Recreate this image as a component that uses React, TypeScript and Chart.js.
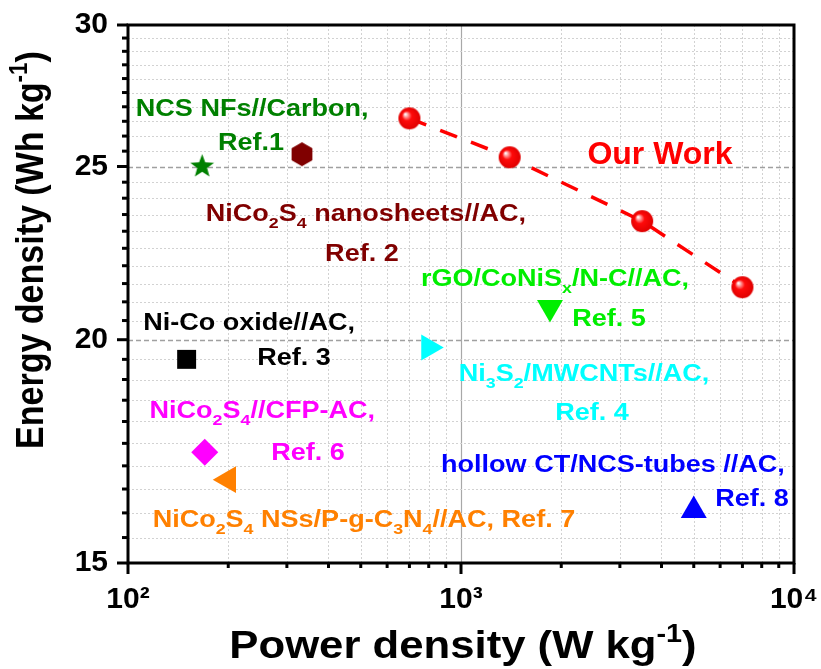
import React, { useEffect, useRef } from 'react';
import { Chart, registerables } from 'chart.js';

Chart.register(...registerables);

// ---------- data ----------
const ourWorkPower = [700, 1400, 3500, 7000];
const ourWorkEnergy = [26.6, 25.3, 23.3, 21.4];

const refNames = ['Ref. 1', 'Ref. 2', 'Ref. 3', 'Ref. 4', 'Ref. 5', 'Ref. 6', 'Ref. 7', 'Ref. 8'];
const refPower = [167, 333, 150, 800, 1850, 170, 200, 5000];
const refEnergy = [25.0, 25.4, 19.5, 19.8, 20.85, 17.3, 16.7, 16.05];
const refColors = ['#008000', '#800000', '#000000', '#00FFFF', '#00EE00', '#FF00FF', '#FF8000', '#0000FF'];

const yMajorTicks = [15, 20, 25, 30];
const xMajorTicks = [100, 1000, 10000];
const xTickLabels = ['10\u00B2', '10\u00B3', '10\u2074'];

const xTitle = 'Power density (W kg^{-1})';
const yTitle = 'Energy density (Wh kg^{-1})';

// annotation text anchored in data coordinates (power, energy)
const notes = [
  { text: 'NCS NFs//Carbon,', x: 236, y: 26.96, color: '#008000' },
  { text: 'Ref.1', x: 234, y: 25.8, color: '#008000' },
  { text: 'NiCo_{2}S_{4} nanosheets//AC,', x: 518, y: 23.57, color: '#800000' },
  { text: 'Ref. 2', x: 504, y: 22.39, color: '#800000' },
  { text: 'Our Work', x: 3959, y: 25.47, color: '#FF0000', big: true },
  { text: 'rGO/CoNiS_{x}/N-C//AC,', x: 1916, y: 21.68, color: '#00EE00' },
  { text: 'Ref. 5', x: 2783, y: 20.57, color: '#00EE00' },
  { text: 'Ni-Co oxide//AC,', x: 231, y: 20.46, color: '#000000' },
  { text: 'Ref. 3', x: 315, y: 19.56, color: '#000000' },
  { text: 'Ni_{3}S_{2}/MWCNTs//AC,', x: 2341, y: 19.18, color: '#00FFFF' },
  { text: 'Ref. 4', x: 2474, y: 18.22, color: '#00FFFF' },
  { text: 'NiCo_{2}S_{4}//CFP-AC,', x: 253, y: 18.27, color: '#FF00FF' },
  { text: 'Ref. 6', x: 347, y: 17.31, color: '#FF00FF' },
  { text: 'NiCo_{2}S_{4} NSs/P-g-C_{3}N_{4}//AC, Ref. 7', x: 511, y: 15.89, color: '#FF8000' },
  { text: 'hollow CT/NCS-tubes //AC,', x: 2860, y: 17.06, color: '#0000FF' },
  { text: 'Ref. 8', x: 7477, y: 16.31, color: '#0000FF' },
];

const ARIAL = "'Liberation Sans', Arial, sans-serif";

// ---------- helpers ----------
type Seg = { t: string; k: 'n' | 'sub' | 'sup' };
function parseRich(s: string): Seg[] {
  const segs: Seg[] = [];
  const re = /([_^])\{([^}]*)\}/g;
  let last = 0;
  let m: RegExpExecArray | null;
  while ((m = re.exec(s))) {
    if (m.index > last) segs.push({ t: s.slice(last, m.index), k: 'n' });
    segs.push({ t: m[2], k: m[1] === '_' ? 'sub' : 'sup' });
    last = re.lastIndex;
  }
  if (last < s.length) segs.push({ t: s.slice(last), k: 'n' });
  return segs;
}

function drawRich(
  ctx: CanvasRenderingContext2D,
  s: string,
  x: number,
  y: number,
  o: { size: number; family: string; color: string; sx?: number; sy?: number; align?: string }
) {
  const segs = parseRich(s);
  const fs = (k: string) => (k === 'n' ? o.size : o.size * 0.66);
  ctx.save();
  ctx.translate(x, y);
  ctx.scale(o.sx ?? 1, o.sy ?? 1);
  ctx.fillStyle = o.color;
  ctx.textBaseline = 'alphabetic';
  ctx.textAlign = 'left';
  let total = 0;
  const ws = segs.map((sg) => {
    ctx.font = `bold ${fs(sg.k)}px ${o.family}`;
    const w = ctx.measureText(sg.t).width;
    total += w;
    return w;
  });
  let cx = o.align === 'left' ? 0 : o.align === 'right' ? -total : -total / 2;
  const base = 0.358 * o.size;
  segs.forEach((sg, i) => {
    ctx.font = `bold ${fs(sg.k)}px ${o.family}`;
    const dy = sg.k === 'sub' ? 0.3 * o.size : sg.k === 'sup' ? -0.4 * o.size : 0;
    ctx.fillText(sg.t, cx, base + dy);
    cx += ws[i];
  });
  ctx.restore();
}

function makeCanvas(size: number) {
  const c = document.createElement('canvas');
  c.width = size;
  c.height = size;
  return c;
}

function makeSphere(r: number) {
  const c = makeCanvas(2 * r + 2);
  const g = c.getContext('2d')!;
  const cc = r + 1;
  const grad = g.createRadialGradient(cc - r * 0.38, cc - r * 0.38, r * 0.04, cc, cc, r);
  grad.addColorStop(0, '#ffffff');
  grad.addColorStop(0.18, '#ff9090');
  grad.addColorStop(0.42, '#ff0a0a');
  grad.addColorStop(1, '#e00000');
  g.fillStyle = grad;
  g.beginPath();
  g.arc(cc, cc, r, 0, Math.PI * 2);
  g.fill();
  return c;
}

function makeStar(ro: number, ri: number, color: string) {
  const c = makeCanvas(2 * ro + 2);
  const g = c.getContext('2d')!;
  const cc = ro + 1;
  g.fillStyle = color;
  g.beginPath();
  for (let i = 0; i < 10; i++) {
    const a = -Math.PI / 2 + (i * Math.PI) / 5;
    const rr = i % 2 === 0 ? ro : ri;
    const px = cc + rr * Math.cos(a);
    const py = cc + rr * Math.sin(a);
    if (i === 0) g.moveTo(px, py);
    else g.lineTo(px, py);
  }
  g.closePath();
  g.fill();
  return c;
}

function makeHexagon(r: number, color: string) {
  const c = makeCanvas(2 * r + 2);
  const g = c.getContext('2d')!;
  const cc = r + 1;
  g.fillStyle = color;
  g.beginPath();
  for (let i = 0; i < 6; i++) {
    const a = -Math.PI / 2 + (i * Math.PI) / 3;
    const px = cc + r * Math.cos(a);
    const py = cc + r * Math.sin(a);
    if (i === 0) g.moveTo(px, py);
    else g.lineTo(px, py);
  }
  g.closePath();
  g.fill();
  return c;
}

function buildTicks(min: number, max: number, step: number) {
  const out: number[] = [];
  for (let v = min; v <= max + 1e-9; v += step) out.push(Math.round(v * 100) / 100);
  return out;
}
function buildLogTicks(decades: number[]) {
  const out: number[] = [];
  decades.forEach((d, i) => {
    if (i === decades.length - 1) { out.push(d); return; }
    for (let k = 1; k <= 9; k++) out.push(d * k);
  });
  return out;
}

const yTickValues = buildTicks(15, 30, 0.5);
const xTickValues = buildLogTicks(xMajorTicks);

const framePlugin = {
  id: 'frame',
  beforeDatasetsDraw(chart: any) {
    const ctx: CanvasRenderingContext2D = chart.ctx;
    const { left, right, top, bottom } = chart.chartArea;
    const xs = chart.scales.x;
    const ys = chart.scales.y;
    ctx.save();
    xs.ticks.forEach((t: any) => {
      const v = t.value;
      if (v === 100 || v === 10000) return;
      const px = Math.round(xs.getPixelForValue(v)) + 0.5;
      ctx.beginPath();
      if (v === 1000) {
        ctx.setLineDash([]);
        ctx.strokeStyle = '#a8a8a8';
        ctx.lineWidth = 1.2;
      } else {
        ctx.setLineDash([2, 2]);
        ctx.strokeStyle = '#d2d2d2';
        ctx.lineWidth = 1;
      }
      ctx.moveTo(px, top);
      ctx.lineTo(px, bottom);
      ctx.stroke();
    });
    ys.ticks.forEach((t: any) => {
      const v = t.value;
      if (v === 15 || v === 30) return;
      const py = Math.round(ys.getPixelForValue(v)) + 0.5;
      ctx.beginPath();
      if (v === 20 || v === 25) {
        ctx.setLineDash([5, 3]);
        ctx.strokeStyle = '#a0a0a0';
        ctx.lineWidth = 1.3;
      } else {
        ctx.setLineDash([2, 2]);
        ctx.strokeStyle = '#d2d2d2';
        ctx.lineWidth = 1;
      }
      ctx.moveTo(left, py);
      ctx.lineTo(right, py);
      ctx.stroke();
    });
    ctx.restore();
  },
  afterDraw(chart: any) {
    const ctx: CanvasRenderingContext2D = chart.ctx;
    const { left, right, top, bottom } = chart.chartArea;
    const xs = chart.scales.x;
    const ys = chart.scales.y;
    ctx.save();
    ctx.setLineDash([]);
    ctx.strokeStyle = '#000';
    ctx.lineWidth = 3;
    // tick marks
    ys.ticks.forEach((t: any) => {
      const v = t.value;
      const py = ys.getPixelForValue(v);
      const len = yMajorTicks.includes(v) ? 11 : 6;
      ctx.beginPath();
      ctx.moveTo(left - len, py);
      ctx.lineTo(left, py);
      ctx.stroke();
    });
    xs.ticks.forEach((t: any) => {
      const v = t.value;
      const px = xs.getPixelForValue(v);
      const len = xMajorTicks.includes(v) ? 11 : 5;
      ctx.beginPath();
      ctx.moveTo(px, bottom);
      ctx.lineTo(px, bottom + len);
      ctx.stroke();
    });
    // frame
    ctx.beginPath();
    ctx.rect(left, top, right - left, bottom - top);
    ctx.stroke();
    ctx.restore();

    // annotations
    notes.forEach((n) => {
      const px = xs.getPixelForValue(n.x);
      const py = ys.getPixelForValue(n.y);
      if (n.big) {
        drawRich(ctx, n.text, px, py, { size: 32, family: ARIAL, color: n.color });
      } else {
        drawRich(ctx, n.text, px, py, { size: 23.5, family: ARIAL, color: n.color, sx: 1.15 });
      }
    });

    // axis titles
    drawRich(ctx, xTitle, 463, 644, { size: 39, family: ARIAL, color: '#000', sx: 1.12 });
    ctx.save();
    ctx.translate(29, 250);
    ctx.rotate(-Math.PI / 2);
    drawRich(ctx, yTitle, 0, 0, { size: 34, family: ARIAL, color: '#000', sy: 1.15 });
    ctx.restore();
  },
};

export default function App() {
  const ref = useRef<HTMLCanvasElement>(null);
  useEffect(() => {
    const canvas = ref.current!;
    const sphere = makeSphere(11);
    const refStyles: any[] = [
      makeStar(12.5, 5.2, refColors[0]),
      makeHexagon(12, refColors[1]),
      'rect',
      'triangle',
      'triangle',
      'rectRot',
      'triangle',
      'triangle',
    ];
    const refRot = [0, 0, 0, 90, 180, 0, -90, 0];
    const refRadius = [12, 12, 13.4, 15, 15, 13.5, 15.5, 15];

    const datasets: any[] = [
      {
        label: 'Our Work',
        data: ourWorkPower.map((x, i) => ({ x, y: ourWorkEnergy[i] })),
        showLine: true,
        borderColor: '#FF0000',
        borderWidth: 3.5,
        borderDash: [18, 15],
        pointStyle: sphere,
        pointRadius: 11,
        backgroundColor: '#FF0000',
        order: 0,
      },
      ...refNames.map((name, i) => ({
        label: name,
        data: [{ x: refPower[i], y: refEnergy[i] }],
        showLine: false,
        pointStyle: refStyles[i],
        pointRotation: refRot[i],
        pointRadius: refRadius[i],
        pointBackgroundColor: refColors[i],
        pointBorderColor: refColors[i],
        pointBorderWidth: 0,
        order: 1,
      })),
    ];

    const chart = new Chart(canvas, {
      type: 'scatter',
      data: { datasets },
      options: {
        animation: false,
        responsive: false,
        layout: { padding: { top: 25, right: 27, left: 0, bottom: 0 } },
        plugins: { legend: { display: false }, tooltip: { enabled: false } },
        scales: {
          x: {
            type: 'logarithmic',
            position: 'bottom',
            min: 100,
            max: 10000,
            afterBuildTicks: (s: any) => {
              s.ticks = xTickValues.map((v) => ({ value: v }));
            },
            afterFit: (s: any) => {
              s.height = 106;
              s.paddingLeft = 0;
              s.paddingRight = 0;
              s.paddingTop = 0;
              s.paddingBottom = 0;
            },
            grid: { display: false, drawTicks: false },
            border: { display: false },
            ticks: {
              autoSkip: false,
              maxRotation: 0,
              minRotation: 0,
              padding: 19,
              color: '#000',
              font: { family: ARIAL, size: 30, weight: 'bold' },
              callback: (v: any) => {
                const i = xMajorTicks.indexOf(Number(v));
                return i >= 0 ? xTickLabels[i] : '';
              },
            },
          },
          y: {
            type: 'logarithmic',
            position: 'left',
            min: 15,
            max: 30,
            afterBuildTicks: (s: any) => {
              s.ticks = yTickValues.map((v) => ({ value: v }));
            },
            afterFit: (s: any) => {
              s.width = 128;
              s.paddingLeft = 0;
              s.paddingRight = 0;
              s.paddingTop = 0;
              s.paddingBottom = 0;
            },
            grid: { display: false, drawTicks: false },
            border: { display: false },
            ticks: {
              autoSkip: false,
              padding: 20,
              color: '#000',
              font: { family: ARIAL, size: 30, weight: 'bold' },
              callback: (v: any) => (yMajorTicks.includes(Number(v)) ? String(v) : ''),
            },
          },
        },
      },
      plugins: [framePlugin],
    } as any);
    return () => chart.destroy();
  }, []);

  return (
    <div style={{ position: 'fixed', left: 0, top: 0, width: 821, height: 669, background: '#fff' }}>
      <canvas ref={ref} width={821} height={669} style={{ display: 'block', width: 821, height: 669 }} />
    </div>
  );
}
